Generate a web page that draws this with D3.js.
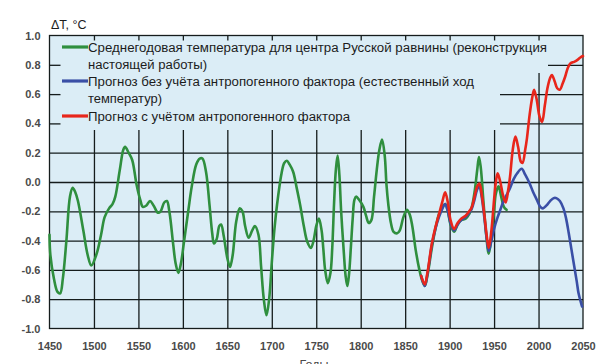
<!DOCTYPE html>
<html><head><meta charset="utf-8">
<script src="https://cdn.jsdelivr.net/npm/d3@7"></script>
<style>body{margin:0;background:#fff}svg{display:block}</style>
</head><body>
<script>
// ---- data ----
const yTicks = [-1.0,-0.8,-0.6,-0.4,-0.2,0.0,0.2,0.4,0.6,0.8,1.0];
const xTicks = [1450,1500,1550,1600,1650,1700,1750,1800,1850,1900,1950,2000,2050];
const legendLabels = [
  ["Среднегодовая температура для центра Русской равнины (реконструкция","настоящей работы)"],
  ["Прогноз без учёта антропогенного фактора (естественный ход","температур)"],
  ["Прогноз с учётом антропогенного фактора"]
];
const yLabel = "ΔT, °C";
const xLabel = "Годы";
const greenSeries = [[1450,-0.36],[1451,-0.50],[1455,-0.66],[1459,-0.75],[1462,-0.76],[1465,-0.66],[1469,-0.40],[1473,-0.10],[1476,-0.04],[1479,-0.07],[1482,-0.13],[1488,-0.33],[1493,-0.50],[1497,-0.57],[1503,-0.49],[1508,-0.36],[1512,-0.24],[1517,-0.18],[1521,-0.15],[1524,-0.10],[1529,0.08],[1533,0.22],[1535,0.24],[1539,0.20],[1543,0.15],[1548,-0.02],[1552,-0.12],[1555,-0.17],[1559,-0.16],[1563,-0.13],[1567,-0.16],[1572,-0.21],[1575,-0.20],[1579,-0.14],[1582,-0.13],[1585,-0.21],[1589,-0.42],[1592,-0.56],[1595,-0.62],[1598,-0.55],[1601,-0.42],[1606,-0.20],[1610,-0.03],[1615,0.12],[1619,0.16],[1622,0.16],[1626,0.07],[1630,-0.16],[1633,-0.35],[1635,-0.42],[1638,-0.39],[1641,-0.30],[1643,-0.29],[1646,-0.37],[1650,-0.52],[1653,-0.58],[1656,-0.50],[1660,-0.27],[1664,-0.18],[1667,-0.20],[1670,-0.30],[1674,-0.38],[1678,-0.33],[1681,-0.30],[1685,-0.36],[1688,-0.58],[1691,-0.80],[1694,-0.91],[1697,-0.80],[1700,-0.55],[1703,-0.32],[1706,-0.15],[1711,0.06],[1714,0.13],[1717,0.145],[1720,0.12],[1724,0.07],[1728,-0.04],[1732,-0.16],[1736,-0.30],[1740,-0.41],[1744,-0.45],[1747,-0.40],[1750,-0.30],[1753,-0.25],[1756,-0.33],[1758,-0.46],[1760,-0.60],[1763,-0.69],[1766,-0.62],[1768,-0.45],[1770,-0.15],[1772,0.08],[1774,0.18],[1776,0.05],[1778,-0.20],[1781,-0.48],[1783,-0.64],[1785,-0.71],[1787,-0.62],[1789,-0.44],[1791,-0.25],[1793,-0.12],[1795,-0.10],[1798,-0.12],[1803,-0.17],[1806,-0.23],[1809,-0.28],[1812,-0.26],[1815,-0.10],[1818,0.08],[1821,0.22],[1824,0.29],[1827,0.18],[1829,-0.02],[1831,-0.15],[1834,-0.28],[1837,-0.34],[1841,-0.35],[1844,-0.33],[1848,-0.24],[1852,-0.19],[1855,-0.22],[1858,-0.30],[1862,-0.47],[1866,-0.60],[1869,-0.67],[1872,-0.71],[1875,-0.64],[1880,-0.45],[1884,-0.32],[1888,-0.22],[1892,-0.17],[1895,-0.15],[1898,-0.20],[1901,-0.29],[1905,-0.34],[1909,-0.29],[1913,-0.26],[1918,-0.25],[1922,-0.22],[1925,-0.17],[1928,-0.07],[1931,0.08],[1933,0.17],[1935,0.10],[1938,-0.13],[1941,-0.35],[1944,-0.49],[1947,-0.38],[1950,-0.20],[1952,-0.08],[1955,-0.03],[1958,-0.10],[1961,-0.17],[1964,-0.19]];
const blueSeries = [[1868,-0.64],[1872,-0.71],[1875,-0.63],[1880,-0.43],[1884,-0.32],[1888,-0.24],[1892,-0.18],[1895,-0.15],[1898,-0.20],[1901,-0.28],[1905,-0.33],[1909,-0.29],[1913,-0.26],[1918,-0.24],[1922,-0.21],[1925,-0.18],[1928,-0.12],[1931,-0.05],[1933.5,-0.03],[1936,-0.10],[1939,-0.24],[1942,-0.40],[1944,-0.47],[1947,-0.40],[1950,-0.32],[1954,-0.24],[1957,-0.19],[1960,-0.14],[1964,-0.09],[1968,-0.04],[1972,0.02],[1976,0.06],[1981,0.09],[1985,0.05],[1990,-0.01],[1994,-0.07],[1998,-0.12],[2002,-0.17],[2005,-0.18],[2009,-0.16],[2013,-0.13],[2017,-0.11],[2020,-0.11],[2024,-0.13],[2028,-0.18],[2031,-0.25],[2034,-0.35],[2037,-0.46],[2040,-0.57],[2043,-0.68],[2045,-0.76],[2048,-0.83],[2049,-0.85]];
const redSeries = [[1868,-0.64],[1872,-0.70],[1875,-0.62],[1880,-0.42],[1884,-0.31],[1888,-0.22],[1892,-0.13],[1895,-0.07],[1898,-0.14],[1901,-0.26],[1905,-0.32],[1909,-0.28],[1913,-0.25],[1918,-0.23],[1922,-0.20],[1925,-0.17],[1928,-0.10],[1931,-0.03],[1933.5,-0.01],[1936,-0.08],[1939,-0.22],[1942,-0.38],[1944,-0.45],[1947,-0.33],[1950,-0.12],[1952,0.00],[1954,0.06],[1957,0.00],[1960,-0.09],[1963,-0.14],[1966,-0.05],[1968,0.04],[1971,0.22],[1974,0.31],[1977,0.24],[1980,0.14],[1982,0.13],[1985,0.22],[1987,0.30],[1990,0.46],[1993,0.58],[1995,0.63],[1998,0.56],[2001,0.45],[2004,0.41],[2007,0.52],[2010,0.64],[2013,0.71],[2015,0.73],[2018,0.69],[2021,0.64],[2024,0.63],[2027,0.67],[2030,0.72],[2033,0.78],[2036,0.81],[2040,0.82],[2043,0.83],[2047,0.85],[2050,0.86]];
const colors = {green:"#2f8f3e", blue:"#3a4fa6", red:"#e8261b", bg:"#dbedf6", grid:"#151c1c", text:"#1c1c1c", tick:"#4a4a4a"};

// ---- layout ----
const W = 614, H = 364;
const L = 49.5, R = 583, T = 35.5, B = 328.5;
const x = d3.scaleLinear().domain([1450,2050]).range([L,R]);
const y = d3.scaleLinear().domain([-1,1]).range([B,T]);

const svg = d3.select("body").append("svg").attr("width",W).attr("height",H)
  .style("font-family","'Liberation Sans', Arial, sans-serif");
svg.append("rect").attr("width",W).attr("height",H).attr("fill","#fff");
svg.append("rect").attr("x",L).attr("y",T).attr("width",R-L).attr("height",B-T).attr("fill",colors.bg);

// grid
const gy = svg.append("g").attr("transform",`translate(${L},0)`)
  .call(d3.axisLeft(y).tickValues(yTicks.slice(1,-1)).tickSize(-(R-L)).tickFormat(""));
gy.select(".domain").remove();
gy.selectAll("line").attr("stroke",colors.grid).attr("stroke-width",1.3);
const gx = svg.append("g").attr("transform",`translate(0,${B})`)
  .call(d3.axisBottom(x).tickValues(xTicks.slice(1,-1)).tickSize(-(B-T)).tickFormat(""));
gx.select(".domain").remove();
gx.selectAll("line").attr("stroke",colors.grid).attr("stroke-width",1.3);

// legend background (covers grid)
svg.append("rect").attr("x",L).attr("y",T).attr("width",548-L).attr("height",73-T).attr("fill",colors.bg);
svg.append("rect").attr("x",L).attr("y",T).attr("width",500-L).attr("height",130-T).attr("fill",colors.bg);

// inner ticks
const tl = svg.append("g").attr("transform",`translate(${L},0)`)
  .call(d3.axisRight(y).tickValues([0.4,0.6,0.8]).tickSize(11).tickFormat(""));
tl.select(".domain").remove();
tl.selectAll("line").attr("stroke",colors.grid).attr("stroke-width",1.3);
const tt = svg.append("g").attr("transform",`translate(0,${T})`)
  .call(d3.axisBottom(x).tickValues(xTicks.slice(1,-1)).tickSize(5).tickFormat(""));
tt.select(".domain").remove();
tt.selectAll("line").attr("stroke",colors.grid).attr("stroke-width",1.3);

// border
svg.append("rect").attr("x",L).attr("y",T).attr("width",R-L).attr("height",B-T)
  .attr("fill","none").attr("stroke",colors.grid).attr("stroke-width",1.3);

// tick labels
const ly = svg.append("g").attr("transform",`translate(${L},0)`)
  .call(d3.axisLeft(y).tickValues(yTicks).tickSize(0).tickPadding(9).tickFormat(d=>d.toFixed(1)));
ly.select(".domain").remove();
ly.selectAll("text").attr("fill",colors.tick).attr("font-size",11).attr("font-weight","bold")
  .attr("font-family","'Liberation Sans', Arial, sans-serif");
const lx = svg.append("g").attr("transform",`translate(0,${B})`)
  .call(d3.axisBottom(x).tickValues(xTicks).tickSize(0).tickPadding(14).tickFormat(d=>String(d)));
lx.select(".domain").remove();
lx.selectAll("text").attr("fill",colors.tick).attr("font-size",11).attr("font-weight","bold")
  .attr("font-family","'Liberation Sans', Arial, sans-serif");

svg.append("text").attr("x",51).attr("y",29).attr("font-size",12.5).attr("fill",colors.text).text(yLabel);
svg.append("text").attr("x",314).attr("y",369).attr("text-anchor","middle").attr("font-size",12.5).attr("fill",colors.tick).text(xLabel);

// curves
const line = d3.line().x(d=>x(d[0])).y(d=>y(d[1])).curve(d3.curveCatmullRom.alpha(0.5));
[[greenSeries,colors.green],[blueSeries,colors.blue],[redSeries,colors.red]].forEach(([s,c])=>{
  svg.append("path").datum(s).attr("d",line).attr("fill","none").attr("stroke",c)
    .attr("stroke-width",2.6).attr("stroke-linejoin","round").attr("stroke-linecap","round");
});

// legend
const legY = [47,81,116];
const legW = [[459,119],[386,74],[262]];
const legC = [colors.green,colors.blue,colors.red];
legendLabels.forEach((lines,i)=>{
  svg.append("line").attr("x1",62).attr("x2",88).attr("y1",legY[i]).attr("y2",legY[i])
    .attr("stroke",legC[i]).attr("stroke-width",3.2);
  lines.forEach((t,j)=>{
    svg.append("text").attr("x",88).attr("y",legY[i]+4.5+j*17).attr("font-size",12.5)
      .attr("fill",colors.text).attr("textLength",legW[i][j]).attr("lengthAdjust","spacingAndGlyphs").text(t);
  });
});
</script>
</body></html>
